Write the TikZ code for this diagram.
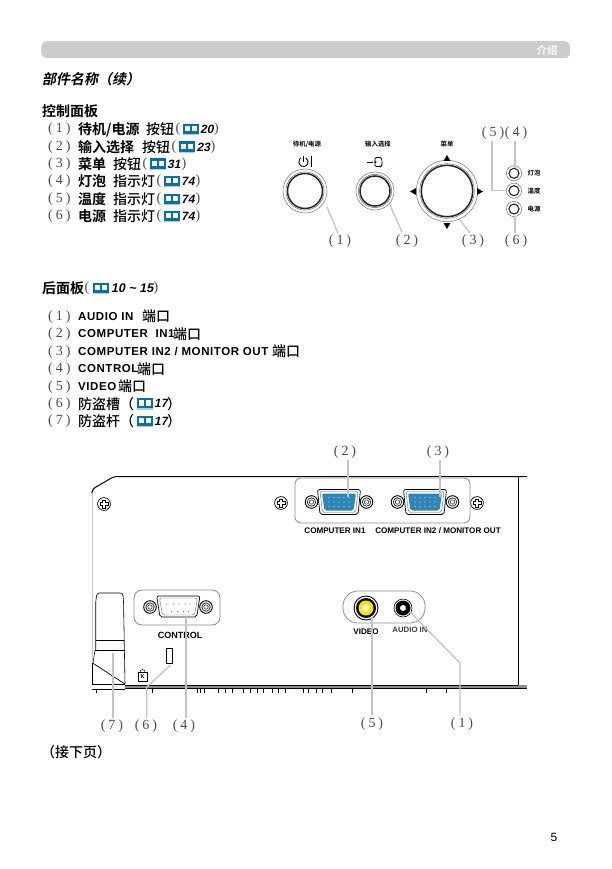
\documentclass[tikz,border=0pt]{standalone}
\usepackage{fontspec}
\setmainfont{Liberation Sans}
\newfontfamily\cjkb{Noto Sans CJK SC Bold}
\newfontfamily\cjkm{Noto Sans CJK SC Medium}
\newfontfamily\cjki[RawFeature={slant=0.2}]{Noto Sans CJK SC Bold}
\newfontfamily\numf{Liberation Serif}
\newfontfamily\latb{Liberation Sans Bold}
\newfontfamily\latw[LetterSpace=5]{Liberation Sans Bold}
\newfontfamily\lati[RawFeature={slant=0.2}]{Liberation Sans Bold}
\definecolor{barg}{HTML}{CCCCCC}
\definecolor{callg}{HTML}{C4C4C4}
\definecolor{bookb}{HTML}{0A6FA8}
\definecolor{vgab}{HTML}{2E86B8}
\definecolor{ringg}{HTML}{8C8C8C}
\tikzset{
  txt/.style={anchor=west,inner sep=0pt,text=black,font=\fontsize{14}{14}\cjkb},
  txtr/.style={anchor=west,inner sep=0pt,text=black,font=\fontsize{14}{14}\cjkm},
  lat/.style={anchor=west,inner sep=0pt,text=black,font=\fontsize{11.5}{12}\latw},
  pgref/.style={anchor=west,inner sep=0pt,text=black,font=\fontsize{12}{12}\lati},
  paren/.style={anchor=center,inner sep=0pt,text=black!70,font=\fontsize{14}{14}\numf},
  num/.style={anchor=center,inner sep=0pt,text=black!70,font=\fontsize{14}{14}\numf},
  small/.style={anchor=center,inner sep=0pt,text=black,font=\fontsize{6.4}{7}\cjkb},
  portlab/.style={anchor=center,inner sep=0pt,text=black,font=\fontsize{8.1}{9}\latb},
  call/.style={draw=callg,line width=1.3pt},
  edgeline/.style={draw=black,line width=1pt},
  tick/.style={draw=black,line width=.5pt},
}
\newcommand{\nn}[1]{(\kern3pt#1\kern3pt)}
\newcommand{\bookat}[2]{%
  \begin{scope}[shift={(#1,#2)}]
    \fill[bookb] (0,-5.5) rectangle (16,5);
    \fill[white] (2.4,-3.4) rectangle (6.9,1.8);
    \fill[white] (9.1,-3.4) rectangle (13.6,1.8);
    \fill[bookb!35] (0,4.6) rectangle (16,5.8);
  \end{scope}}
\newcommand{\screwat}[2]{%
  \draw[black,line width=.7pt] (#1,#2) circle (6.4);
  \draw[black,line width=.6pt] (#1-1.6,#2-4.2) -- (#1+1.6,#2-4.2) -- (#1+1.6,#2-1.6) -- (#1+4.2,#2-1.6) -- (#1+4.2,#2+1.6) -- (#1+1.6,#2+1.6) -- (#1+1.6,#2+4.2) -- (#1-1.6,#2+4.2) -- (#1-1.6,#2+1.6) -- (#1-4.2,#2+1.6) -- (#1-4.2,#2-1.6) -- (#1-1.6,#2-1.6) -- cycle;}
\newcommand{\jackscrew}[2]{%
  \draw[black,line width=.9pt] (#1,#2) circle (6.3);
  \draw[black!80,line width=.8pt] (#1,#2) circle (4.2);
  \draw[black!70,line width=.7pt] (#1,#2) circle (2.2);}
\newcommand{\ringbtn}[4]{% x y outer inner
  \draw[black!55,line width=.5pt] (#1,#2) circle (#3);
  \draw[black!85,line width=1.5pt] (#1,#2) circle (#4);
  \draw[black!50,line width=.6pt] (#1,#2) circle (#4+1.6);}
\newcommand{\vgaat}[2]{%
  \begin{scope}[shift={(#1,#2)}]
    \draw[black,line width=.7pt,rounded corners=2pt] (-21.5,-12.5) -- (21.5,-12.5) -- (19,12.5) -- (-19,12.5) -- cycle;
    \draw[black!60,line width=.4pt,rounded corners=2pt] (-19,-10.5) -- (19,-10.5) -- (16.5,10.5) -- (-16.5,10.5) -- cycle;
    \fill[vgab,rounded corners=2pt] (-17,-8.5) -- (17,-8.5) -- (14.5,8.5) -- (-14.5,8.5) -- cycle;
    \foreach \r in {-4.5,0,4.5}{\foreach \c in {1,...,5}{\fill[white!70!vgab] (\c*5-15,\r) circle (.6);}}
    \jackscrew{-27.5}{0}\jackscrew{27.5}{0}
  \end{scope}}
\begin{document}
\begin{tikzpicture}[x=1pt,y=-1pt]
\useasboundingbox (0,0) rectangle (612,869);
\fill[white] (0,0) rectangle (612,869);
% header
\node[fill=barg,rounded corners=6pt,minimum width=529pt,minimum height=17pt,inner sep=0pt,anchor=north west] (bar) at (41,41) {};
\node[inner sep=0pt,text=white,font=\fontsize{10.5}{11}\cjkb] (hd) at (547,50) {介绍};
\node[txt,font=\fontsize{14}{14}\cjki] (t0) at (42,79.5) {部件名称（续）};
\node[txt] (t1) at (42,111) {控制面板};
% parts list
\foreach \n/\y in {1/129.5,2/147,3/164,4/181.5,5/199,6/216.5}{\node[num,anchor=west] (pn\n) at (48,\y) {\nn{\n}};}
\node[txt] (a1) at (78,129.5) {待机/电源};
\node[txtr] (b1) at (146,129.5) {按钮};
\node[paren] (p1) at (178,129.5) {(};
\node[pgref] (c1) at (200,129.5) {20};
\node[paren] (d1) at (216.5,129.5) {)};
\node[txt] (a2) at (78,147) {输入选择};
\node[txtr] (b2) at (142,147) {按钮};
\node[paren] (p2) at (174,147) {(};
\node[pgref] (c2) at (196.5,147) {23};
\node[paren] (d2) at (213,147) {)};
\node[txt] (a3) at (78,164) {菜单};
\node[txtr] (b3) at (113,164) {按钮};
\node[paren] (p3) at (145,164) {(};
\node[pgref] (c3) at (167,164) {31};
\node[paren] (d3) at (184,164) {)};
\foreach \i/\y/\w in {4/181.5/灯泡,5/199/温度,6/216.5/电源}{
  \node[txt] (a\i) at (78,\y) {\w};
  \node[txtr] (b\i) at (113,\y) {指示灯};
  \node[paren] (p\i) at (159,\y) {(};
  \node[pgref] (c\i) at (181,\y) {74};
  \node[paren] (d\i) at (198,\y) {)};
}
\bookat{183}{129.5}\bookat{179}{147}\bookat{150}{164}\bookat{164}{181.5}\bookat{164}{199}\bookat{164}{216.5}
% control panel
\node[small] (l1) at (307,144) {待机/电源};
\node[small] (l2) at (378,144) {输入选择};
\node[small] (l3) at (447,144) {菜单};
\node[small] (l4) at (534,173.3) {灯泡};
\node[small] (l5) at (534,190.7) {温度};
\node[small] (l6) at (534,209) {电源};
\ringbtn{305}{191}{22}{17.5}
\ringbtn{375}{191}{19}{15}
\ringbtn{447}{191}{30.7}{25.7}
\foreach \y in {173.3,190.7,209}{\draw[black!55,line width=.5pt] (514,\y) circle (7.6);\draw[black!85,line width=1.1pt] (514,\y) circle (5);}
\fill[black] (447,155) -- (450.5,161) -- (443.5,161) -- cycle;
\fill[black] (447,229) -- (450.5,223) -- (443.5,223) -- cycle;
\fill[black] (410,191.5) -- (416,188) -- (416,195) -- cycle;
\fill[black] (483,191.5) -- (477,188) -- (477,195) -- cycle;
% power icon
\draw[black,line width=.9pt] (305.8,157.9) arc[start angle=-60,end angle=240,radius=4.7];
\draw[black,line width=.9pt] (303.5,156.5) -- (303.5,162);
\draw[black,line width=.9pt] (311.5,156.5) -- (311.5,167);
% input icon
\draw[black,line width=.6pt] (367,162) -- (373,162);
\draw[black,line width=.7pt,rounded corners=1pt] (375,157.5) -- (381,157.5) -- (382,160) -- (382,165) -- (381,166.5) -- (375,166.5) -- cycle;
\fill[black] (375.5,162) circle (1.2);
% callout labels
\node[num] (n1) at (340,241) {\nn{1}};
\node[num] (n2) at (407,241) {\nn{2}};
\node[num] (n3) at (473,241) {\nn{3}};
\node[num] (n6) at (516,241) {\nn{6}};
\node[num] (n5) at (493,133) {\nn{5}};
\node[num] (n4) at (516,133) {\nn{4}};
\draw[call] (327,207) -- (338,233);
\draw[call] (390,205) -- (402,232);
\draw[call] (460,220) -- (470,233);
\draw[call] (515,168) -- (515,141);
\draw[call] (492,141) -- (492,190.7) -- (507,190.7);
\draw[call] (515,216) -- (515,233);
% rear heading and list
\node[txt] (r0) at (42,288) {后面板};
\node[paren] (r0b) at (87,288) {(};
\bookat{93}{288}
\node[pgref,font=\fontsize{12.5}{13}\lati] (r0c) at (111,288) {10 {\char"7E} 15};
\node[paren] (r0d) at (156,288) {)};
\foreach \n/\y in {1/316.7,2/334,3/351.7,4/369,5/386.7,6/403.7,7/421}{\node[num,anchor=west] (q\n) at (48,\y) {\nn{\n}};}
\node[lat] (s1) at (78,316.7) {AUDIO IN};
\node[txtr] (e1) at (142,316.7) {端口};
\node[lat] (s2) at (78,334) {COMPUTER\ \ IN1};
\node[txtr] (e2) at (173,334) {端口};
\node[lat] (s3) at (78,351.7) {COMPUTER IN2 / MONITOR OUT};
\node[txtr] (e3) at (272,351.7) {端口};
\node[lat] (s4) at (78,369) {CONTROL};
\node[txtr] (e4) at (137,369) {端口};
\node[lat] (s5) at (78,386.7) {VIDEO};
\node[txtr] (e5) at (118,386.7) {端口};
\node[txtr] (s6) at (78,403.7) {防盗槽（};
\node[pgref] (e6) at (154,403.7) {17};
\node[txtr] (f6) at (167,403.7) {）};
\node[txtr] (s7) at (78,421) {防盗杆（};
\node[pgref] (e7) at (154,421) {17};
\node[txtr] (f7) at (167,421) {）};
\bookat{137}{403.7}\bookat{137}{421}
% rear panel outline
\draw[black!22,line width=.6pt] (92,663) -- (92,493);
\draw[edgeline,rounded corners=3pt] (92,493) -- (92.5,489) -- (114,476.5) -- (527,476.5);
\draw[edgeline] (518,477) -- (518,688.5);
\fill[black!45] (125,685.3) rectangle (527,688.5);
\draw[black,line width=.8pt] (125,685.3) -- (518,685.3);
\draw[black,line width=.8pt] (125,688.5) -- (527,688.5);
\draw[black,line width=.8pt] (92,689) -- (125,689);
\foreach \x in {96,152,197,200,204,218,225,232,243,250,257,263,272,278,285,303,308,316,322,331,352,426,446}{\draw[tick] (\x,689) -- (\x,692.5);}
% screws
\screwat{104}{504}\screwat{281}{503}\screwat{477}{503}
% VGA
\draw[draw=ringg,line width=.8pt,rounded corners=6pt] (295,478) rectangle (470,523);
\vgaat{339}{502}\vgaat{425}{502}
\node[portlab] (cin1) at (335,531) {COMPUTER IN1};
\node[portlab] (cin2) at (438,531) {COMPUTER IN2 / MONITOR OUT};
\node[num] (m2) at (345,452) {\nn{2}};
\node[num] (m3) at (438,452) {\nn{3}};
\draw[call] (348,460) -- (348,497);
\draw[call] (440,460) -- (440,497);
% control
\draw[draw=ringg,line width=.8pt,rounded corners=8pt] (134,590) rectangle (220,625);
\draw[black,line width=.7pt,rounded corners=2pt] (156.7,596) -- (200,596) -- (196.7,617) -- (160,617) -- cycle;
\draw[black!60,line width=.4pt,rounded corners=2pt] (159.5,598) -- (197.5,598) -- (194.5,615) -- (162.5,615) -- cycle;
\foreach \x in {166.7,173.3,179,185,190}{\fill[black!60!yellow] (\x,604) circle (.7);}
\foreach \x in {171.7,177.7,183.3,188.3}{\fill[black!60!yellow] (\x,611.7) circle (.7);}
\jackscrew{150}{607}\jackscrew{206}{607}
\node[portlab,font=\fontsize{9}{9}\latb] (ctl) at (180,635.7) {CONTROL};
\draw[black,line width=.6pt] (166.7,648) rectangle (172.7,663);
% kensington lock icon
\draw[black,line width=.5pt] (138,672) rectangle (147,681);
\draw[black,line width=.5pt] (140,672) arc[start angle=180,end angle=360,radius=2.5];
\node[inner sep=0pt,font=\fontsize{5.5}{6}\latb] (kk) at (142.5,676.5) {K};
% cable bar
\draw[black,line width=.6pt,rounded corners=2.5pt] (95.7,650) -- (95.7,601.7) -- (97,593) -- (122.7,593) -- (123.5,601) -- (125,684);
\draw[black,line width=.5pt] (95.7,640) -- (124,640);
\draw[black,line width=.5pt] (95,650) -- (124.5,650);
\draw[black,line width=.5pt] (95,650) -- (93,663);
\draw[black,line width=.8pt] (92.5,663) -- (92.5,684) -- (125,684);
\draw[black,line width=.7pt] (92.5,663) -- (125,684);
\node[num] (k7) at (112,726) {\nn{7}};
\node[num] (k6) at (146,726) {\nn{6}};
\node[num] (k4) at (184,726) {\nn{4}};
\draw[call] (113,653) -- (113,718);
\draw[call] (170.7,665) -- (146.7,687) -- (146.7,718);
\draw[call] (186,617) -- (186,718);
% video and audio
\draw[draw=ringg,line width=.8pt,rounded corners=15pt] (343,591) rectangle (425,623);
\draw[black,line width=.9pt] (366,608) circle (12);
\fill[black] (366,608) circle (10);
\fill[yellow!85!orange] (366,608) circle (7.5);
\fill[white] (366,608) circle (3.5);
\draw[black,line width=.6pt] (403,608) circle (9);
\fill[black] (403,608) circle (7.5);
\fill[white] (403,608) circle (3);
\node[portlab] (vid) at (366,631.7) {VIDEO};
\node[portlab,text=black!75,font=\fontsize{7.8}{8}\latb] (aud) at (410,630) {AUDIO IN};
\node[num] (k5) at (372,724) {\nn{5}};
\node[num] (k1) at (462,724) {\nn{1}};
\draw[call] (372,617) -- (372,715);
\draw[call] (410,612) -- (460,663) -- (460,715);
% footer
\node[txtr] (cont) at (41,752) {（接下页）};
\node[inner sep=0pt,font=\fontsize{12}{12}\selectfont] (pg) at (554,837) {5};
\end{tikzpicture}
\end{document}
